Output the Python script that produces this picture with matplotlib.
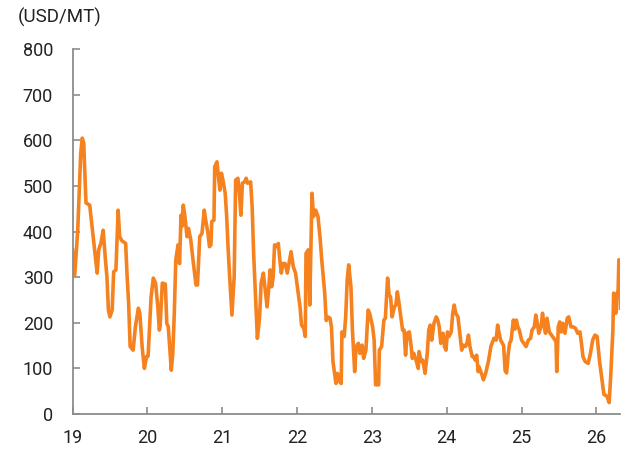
import matplotlib
matplotlib.use("Agg")
import matplotlib.pyplot as plt

# decimal year (two-digit) and price in USD/MT
years = [
    19.00, 19.03, 19.07, 19.11, 19.13, 19.15, 19.18, 19.23, 19.27, 19.32, 19.33, 19.35, 19.38, 19.41,
    19.44, 19.46, 19.48, 19.50, 19.53, 19.55, 19.58, 19.61, 19.63, 19.66, 19.71, 19.73, 19.75, 19.77,
    19.81, 19.84, 19.88, 19.90, 19.93, 19.96, 19.99, 20.01, 20.05, 20.08, 20.11, 20.14, 20.16, 20.17,
    20.20, 20.24, 20.26, 20.28, 20.32, 20.34, 20.36, 20.38, 20.41, 20.43, 20.45, 20.46, 20.48, 20.50,
    20.53, 20.55, 20.58, 20.61, 20.65, 20.67, 20.70, 20.73, 20.76, 20.78, 20.81, 20.83, 20.85, 20.86,
    20.89, 20.90, 20.93, 20.95, 20.97, 20.99, 21.01, 21.04, 21.06, 21.08, 21.10, 21.13, 21.16, 21.18,
    21.21, 21.23, 21.25, 21.27, 21.30, 21.32, 21.34, 21.38, 21.40, 21.42, 21.44, 21.47, 21.50, 21.52,
    21.55, 21.58, 21.60, 21.62, 21.64, 21.66, 21.68, 21.70, 21.72, 21.75, 21.77, 21.79, 21.81, 21.84,
    21.87, 21.90, 21.92, 21.95, 21.98, 22.01, 22.04, 22.06, 22.09, 22.11, 22.12, 22.15, 22.17, 22.20,
    22.22, 22.25, 22.28, 22.31, 22.33, 22.37, 22.39, 22.41, 22.44, 22.46, 22.48, 22.52, 22.54, 22.57,
    22.59, 22.60, 22.63, 22.65, 22.67, 22.69, 22.72, 22.74, 22.77, 22.79, 22.82, 22.84, 22.87, 22.89,
    22.92, 22.95, 22.97, 23.01, 23.03, 23.05, 23.09, 23.10, 23.13, 23.16, 23.18, 23.21, 23.23, 23.25,
    23.27, 23.30, 23.32, 23.34, 23.36, 23.38, 23.41, 23.43, 23.45, 23.47, 23.50, 23.52, 23.54, 23.56,
    23.59, 23.62, 23.63, 23.66, 23.68, 23.71, 23.74, 23.76, 23.78, 23.80, 23.83, 23.86, 23.88, 23.90,
    23.92, 23.95, 23.97, 23.99, 24.01, 24.03, 24.06, 24.08, 24.10, 24.12, 24.15, 24.18, 24.20, 24.22,
    24.25, 24.27, 24.29, 24.31, 24.34, 24.36, 24.38, 24.40, 24.42, 24.43, 24.47, 24.49, 24.52, 24.56,
    24.59, 24.63, 24.66, 24.68, 24.70, 24.72, 24.76, 24.78, 24.80, 24.82, 24.84, 24.86, 24.89, 24.91,
    24.93, 24.95, 24.97, 25.00, 25.03, 25.06, 25.09, 25.12, 25.14, 25.17, 25.19, 25.21, 25.23, 25.26,
    25.28, 25.30, 25.32, 25.34, 25.37, 25.40, 25.43, 25.46, 25.47, 25.49, 25.51, 25.53, 25.55, 25.58,
    25.61, 25.63, 25.66, 25.69, 25.72, 25.75, 25.78, 25.80, 25.82, 25.85, 25.89, 25.92, 25.95, 25.98,
    26.01, 26.04, 26.07, 26.10, 26.14, 26.17, 26.19, 26.22, 26.23, 26.26, 26.27, 26.29, 26.30, 26.31,
    26.32,
]
prices = [
    360, 305, 403, 572, 605, 594, 463, 458, 397, 323, 309, 360, 375, 403,
    338, 301, 228, 213, 228, 312, 316, 447, 389, 380, 374, 301, 243, 148,
    140, 191, 232, 221, 148, 100, 126, 127, 257, 298, 287, 235, 184, 191,
    287, 285, 199, 191, 96, 133, 221, 338, 371, 330, 436, 411, 458, 436,
    389, 407, 382, 338, 283, 283, 389, 396, 447, 425, 396, 367, 371, 422,
    425, 542, 553, 520, 491, 528, 513, 484, 433, 360, 301, 217, 301, 513,
    517, 484, 436, 506, 509, 517, 506, 509, 455, 352, 279, 166, 213, 287,
    309, 265, 235, 272, 316, 279, 298, 371, 367, 374, 338, 309, 330, 330,
    309, 338, 356, 323, 309, 272, 235, 195, 188, 170, 352, 360, 239, 484,
    433, 447, 433, 382, 338, 265, 205, 213, 210, 191, 115, 67, 89, 71,
    67, 180, 170, 213, 294, 327, 279, 184, 93, 148, 155, 133, 151, 122,
    140, 228, 221, 191, 162, 64, 64, 140, 148, 206, 210, 298, 261, 257,
    213, 235, 239, 268, 246, 221, 184, 184, 129, 177, 180, 155, 122, 133,
    118, 100, 137, 115, 118, 89, 133, 184, 195, 162, 199, 213, 206, 191,
    155, 177, 148, 140, 180, 170, 180, 221, 239, 221, 213, 170, 140, 151,
    148, 155, 173, 148, 126, 126, 118, 129, 93, 104, 86, 75, 89, 118,
    148, 166, 162, 195, 177, 162, 150, 95, 90, 130, 155, 162, 206, 186,
    206, 191, 184, 162, 155, 148, 162, 166, 184, 191, 217, 199, 177, 191,
    221, 195, 177, 210, 180, 173, 166, 159, 93, 191, 202, 180, 199, 177,
    210, 213, 191, 191, 188, 177, 180, 155, 126, 115, 111, 133, 162, 173,
    170, 118, 80, 43, 39, 25, 80, 184, 265, 221, 261, 272, 338, 338,
    232,
]

x_ticks = [19, 20, 21, 22, 23, 24, 25, 26]
x_labels = ["19", "20", "21", "22", "23", "24", "25", "26"]
y_ticks = [0, 100, 200, 300, 400, 500, 600, 700, 800]
unit_label = "(USD/MT)"

plt.rcParams['font.family'] = ['Roboto', 'DejaVu Sans']

W, H = 634, 450
fig = plt.figure(figsize=(W / 100, H / 100), dpi=100)
ax = fig.add_axes([72.5 / W, 1 - 414 / H, (620 - 72.5) / W, (414 - 49.2) / H])

ax.plot(years, prices, color="#F5821F", lw=2.6, solid_joinstyle="round")

ax.set_xlim(19, 26.315)
ax.set_ylim(0, 800)
ax.set_xticks(x_ticks)
ax.set_xticklabels(x_labels)
ax.set_yticks(y_ticks)

for s in ["top", "right"]:
    ax.spines[s].set_visible(False)
for s in ["left", "bottom"]:
    ax.spines[s].set_color("#8c8c8c")
    ax.spines[s].set_linewidth(1.3)

ax.tick_params(axis="both", direction="in", length=5, width=1.2, color="#8c8c8c",
               labelsize=13, labelcolor="#222222")
ax.tick_params(axis="y", pad=14)
ax.tick_params(axis="x", pad=11)

fig.text(18 / W, 1 - 17 / H, unit_label, ha="left", va="center", fontsize=13.5, color="#222222")

fig.savefig("out.png", dpi=100)
